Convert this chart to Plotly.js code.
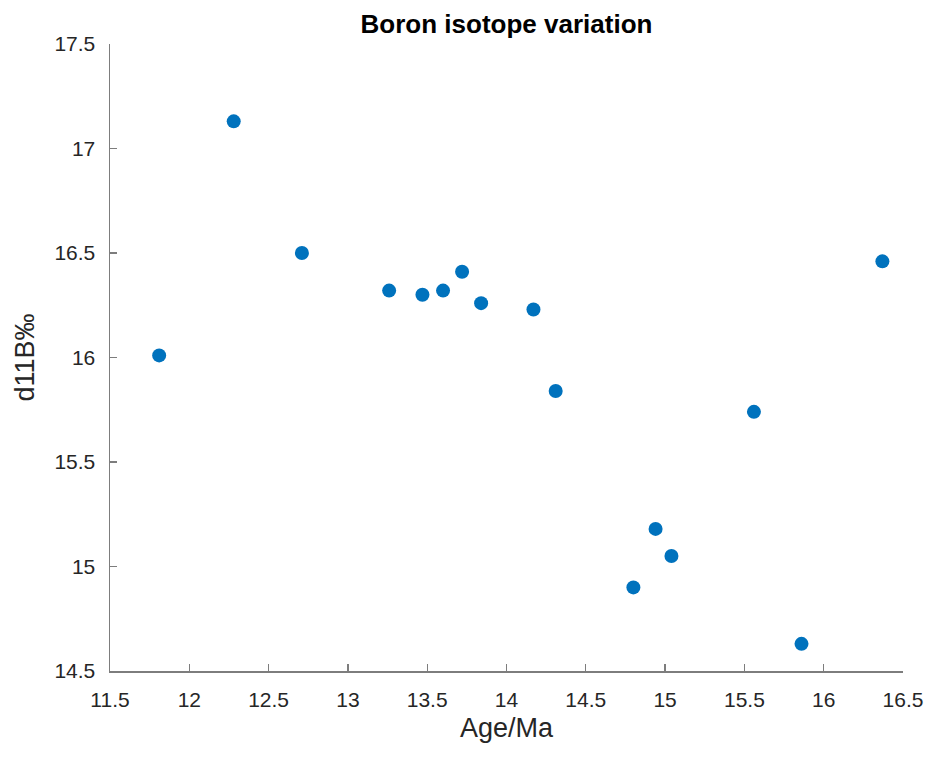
<!DOCTYPE html>
<html>
<head>
<meta charset="utf-8">
<script src="https://cdn.plot.ly/plotly-3.0.1.min.js"></script>
<style>
  html, body { margin: 0; padding: 0; background: #fff; }
  #chart { width: 933px; height: 757px; }
</style>
</head>
<body>
<div id="chart"></div>
<script>
// Sample ages (Ma) and boron isotope values
const ageMa = [11.81, 12.28, 12.71, 13.26, 13.47, 13.60, 13.72, 13.84, 14.17, 14.31,
               14.80, 14.94, 15.04, 15.56, 15.86, 16.37];
const d11B = [16.01, 17.13, 16.50, 16.32, 16.30, 16.32, 16.41, 16.26, 16.23, 15.84,
              14.90, 15.18, 15.05, 15.74, 14.63, 16.46];

const xTicks = [11.5, 12, 12.5, 13, 13.5, 14, 14.5, 15, 15.5, 16, 16.5];
const yTicks = [14.5, 15, 15.5, 16, 16.5, 17, 17.5];

const fontFamily = 'Liberation Sans, Arial, Helvetica, sans-serif';
const axisColor = '#7d7d7d';
const textColor = '#262626';

const trace = {
  x: ageMa,
  y: d11B,
  type: 'scatter',
  mode: 'markers',
  marker: { color: '#0072BD', size: 14, line: { width: 0 } },
  hoverinfo: 'x+y'
};

const axisCommon = {
  showgrid: false,
  zeroline: false,
  showline: true,
  linecolor: axisColor,
  linewidth: 1.5,
  ticks: 'inside',
  ticklen: 7,
  tickwidth: 1.3,
  tickcolor: axisColor,
  tickfont: { family: fontFamily, size: 21, color: textColor },
  mirror: false
};

const layout = {
  width: 933,
  height: 757,
  margin: { l: 110, r: 30, t: 44, b: 86 },
  paper_bgcolor: '#ffffff',
  plot_bgcolor: '#ffffff',
  showlegend: false,
  title: {
    text: '<b>Boron isotope variation</b>',
    font: { family: fontFamily, size: 26, color: '#000000' },
    x: 0.5 * (110 + 903) / 933,
    xanchor: 'center',
    y: 1 - 24 / 757,
    yanchor: 'middle'
  },
  xaxis: Object.assign({}, axisCommon, {
    range: [11.5, 16.5],
    tickvals: xTicks,
    ticktext: xTicks.map(String),
    ticklabelstandoff: 9,
    title: { text: 'Age/Ma', font: { family: fontFamily, size: 27, color: textColor }, standoff: 8 }
  }),
  yaxis: Object.assign({}, axisCommon, {
    range: [14.5, 17.5],
    tickvals: yTicks,
    ticktext: yTicks.map(String),
    ticklabelstandoff: 9,
    title: { text: 'd11B‰', font: { family: fontFamily, size: 27, color: textColor }, standoff: 12 }
  })
};

Plotly.newPlot('chart', [trace], layout, { displayModeBar: false, staticPlot: true });
</script>
</body>
</html>
